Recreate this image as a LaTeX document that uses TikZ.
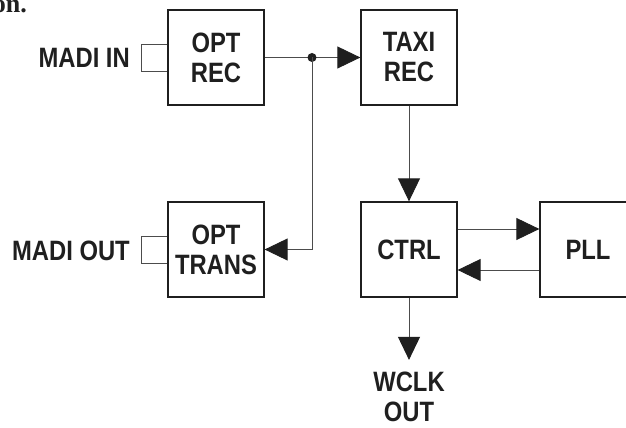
\documentclass[tikz,border=0pt]{standalone}
\usepackage{fontspec}
\newfontfamily\blockfont[FakeStretch=0.85]{Liberation Sans Bold}
\newfontfamily\bodyfont{Liberation Serif Bold}
\usetikzlibrary{arrows.meta}

\tikzset{
  block/.style={draw=black!88, line width=1.3pt, minimum width=96pt,
    minimum height=95pt, align=center,
    font=\blockfont\fontsize{28}{30}\selectfont, text=black!88},
  lbl/.style={inner sep=0pt, align=center,
    font=\blockfont\fontsize{28}{30}\selectfont, text=black!88},
  wire/.style={draw=black!70, line width=0.9pt},
  arr/.style={wire, -{Triangle[length=23pt,width=22pt,color=black!88]}}
}

\begin{document}
\begin{tikzpicture}[x=1pt,y=1pt]
\path[use as bounding box, clip] (0,0) rectangle (626,428);

% the blocks
\node[block] (optrec)   at (216,370.5) {OPT\\REC};
\node[block] (taxirec)  at (409,370.5) {TAXI\\REC};
\node[block] (opttrans) at (216,178.5) {OPT\\TRANS};
\node[block] (ctrl)     at (409,178.5) {CTRL};
\node[block] (pll)      at (588,178.5) {PLL};

% outside labels
\node[lbl, anchor=east] (madiin)  at (130,370) {MADI IN};
\node[lbl, anchor=east] (madiout) at (130,177) {MADI OUT};
\node[lbl] (wclk) at (409,31) {WCLK\\OUT};
\node[anchor=base east, inner sep=0pt, text=black!88,
  font=\bodyfont\fontsize{26}{28}\selectfont] (body) at (27,415) {on.};

% fibre stubs
\draw[wire] ([yshift=13.5pt]optrec.west) -- ++(-26,0) -- ++(0,-27)
  -- ([yshift=-13.5pt]optrec.west);
\draw[wire] ([yshift=13.5pt]opttrans.west) -- ++(-26,0) -- ++(0,-27)
  -- ([yshift=-13.5pt]opttrans.west);

% signal path
\coordinate (junc) at (312,370.5);
\draw[arr] (optrec.east) -- (taxirec.west);
\fill[black!88] (junc) circle (4.5pt);
\draw[arr] (junc) |- (opttrans.east);
\draw[arr] (taxirec.south) -- (ctrl.north);
\draw[arr] ([yshift=20.5pt]ctrl.east) -- ([yshift=20.5pt]pll.west);
\draw[arr] ([yshift=-20.5pt]pll.west) -- ([yshift=-20.5pt]ctrl.east);
\draw[arr] (ctrl.south) -- ([yshift=12pt]wclk.north);
\end{tikzpicture}
\end{document}
